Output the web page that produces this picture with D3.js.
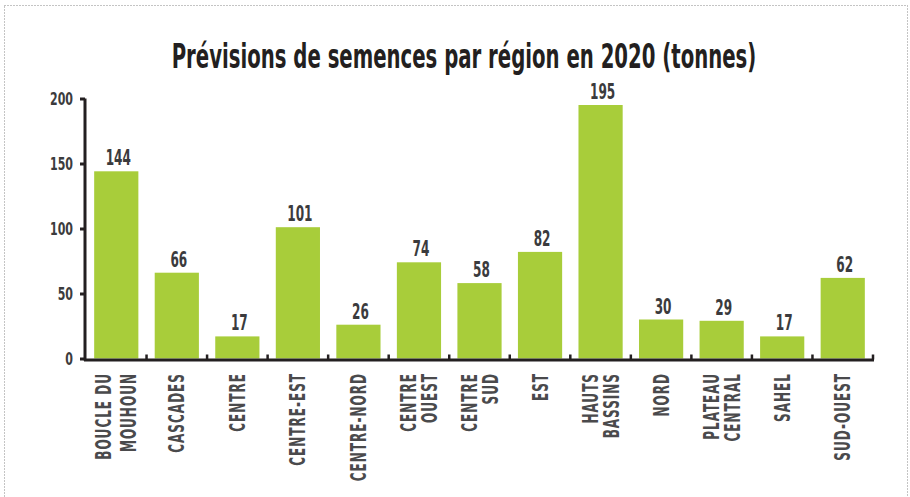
<!DOCTYPE html>
<html>
<head>
<meta charset="utf-8">
<script src="https://cdn.jsdelivr.net/npm/d3@7"></script>
<style>
  html, body { margin: 0; padding: 0; background: #fff; }
  svg { display: block; }
  .cond { font-family: "DejaVu Sans Condensed", "DejaVu Sans", sans-serif; font-weight: bold; }
</style>
</head>
<body>
<svg id="chart" width="910" height="497"></svg>
<script>
// Seed forecasts by region, 2020 (tonnes)
const regions = [
  ["BOUCLE DU", "MOUHOUN"],
  ["CASCADES"],
  ["CENTRE"],
  ["CENTRE-EST"],
  ["CENTRE-NORD"],
  ["CENTRE", "OUEST"],
  ["CENTRE", "SUD"],
  ["EST"],
  ["HAUTS", "BASSINS"],
  ["NORD"],
  ["PLATEAU", "CENTRAL"],
  ["SAHEL"],
  ["SUD-OUEST"]
];
const tonnes = [144, 66, 17, 101, 26, 74, 58, 82, 195, 30, 29, 17, 62];
const yTicks = [0, 50, 100, 150, 200];
const titleText = "Prévisions de semences par région en 2020 (tonnes)";

const svg = d3.select("#chart");

// dotted frame
svg.append("rect")
  .attr("x", 4.5).attr("y", 5.5)
  .attr("width", 903).attr("height", 520)
  .attr("fill", "none")
  .attr("stroke", "#888")
  .attr("stroke-width", 1)
  .attr("stroke-dasharray", "1,2");

const textColor = "#3b3b3d";
const axisColor = "#231f20";

// narrow glyphs: squeeze the condensed face along the reading direction
const squeeze = 0.64;

// title, squeezed to a 585px line
const title = svg.append("text")
  .attr("class", "cond")
  .attr("text-anchor", "middle")
  .attr("font-size", 34)
  .attr("fill", "#231f20")
  .text(titleText);
const natural = title.node().getComputedTextLength();
title.attr("transform", `translate(464,68) scale(${585 / natural},1)`);

const keys = regions.map((r, i) => i);
const x = d3.scaleBand().domain(keys).range([86, 873]).paddingInner(0.27).paddingOuter(0.135);
const y = d3.scaleLinear().domain([0, 200]).range([358.5, 98.5]);

// bars
svg.append("g").selectAll("rect")
  .data(tonnes)
  .join("rect")
  .attr("x", (d, i) => x(i))
  .attr("width", x.bandwidth())
  .attr("y", d => y(d))
  .attr("height", d => y(0) - y(d))
  .attr("fill", "#a8cd3a");

// value labels
svg.append("g").selectAll("text")
  .data(tonnes)
  .join("text")
  .attr("class", "cond")
  .attr("transform", (d, i) => `translate(${x(i) + x.bandwidth() / 2 + 2},${y(d) - 6}) scale(${squeeze},1)`)
  .attr("text-anchor", "middle")
  .attr("font-size", 21)
  .attr("fill", textColor)
  .text(d => d);

// y axis
const yAxis = d3.axisLeft(y).tickValues(yTicks).tickSize(5).tickPadding(7);
const gy = svg.append("g").attr("transform", "translate(85,0)").call(yAxis);
gy.select(".domain").attr("stroke", axisColor).attr("stroke-width", 3).attr("d", `M0,${y(200)}V${y(0) + 2}`);
gy.selectAll(".tick line").attr("stroke", axisColor).attr("stroke-width", 3);
gy.selectAll(".tick text")
  .attr("class", "cond")
  .attr("font-family", null)
  .attr("font-size", 18)
  .attr("fill", textColor)
  .attr("x", null)
  .attr("transform", `translate(-12,0) scale(${squeeze + 0.04},1)`);

// x axis: baseline with upward ticks at category boundaries
const step = x.step();
const bounds = keys.map(i => x(i) - x.paddingInner() * step / 2 + step);
const gx = svg.append("g");
gx.append("line")
  .attr("x1", 84).attr("x2", 874)
  .attr("y1", y(0) + 1.5).attr("y2", y(0) + 1.5)
  .attr("stroke", axisColor).attr("stroke-width", 3);
gx.selectAll("line.tk")
  .data(bounds)
  .join("line")
  .attr("class", "tk")
  .attr("x1", d => d).attr("x2", d => d)
  .attr("y1", y(0) + 1).attr("y2", y(0) - 4)
  .attr("stroke", axisColor).attr("stroke-width", 2.5);

// category labels, rotated
const labelTop = 373;
const lineGap = 21;
const gl = svg.append("g");
regions.forEach((lines, i) => {
  const cx = x(i) + x.bandwidth() / 2;
  const n = lines.length;
  const gap = i === 0 ? 25 : lineGap;
  lines.forEach((txt, j) => {
    const off = (j - (n - 1) / 2) * gap;
    gl.append("text")
      .attr("class", "cond")
      .attr("transform", `translate(${cx + off},${labelTop}) rotate(-90) scale(${squeeze},1)`)
      .attr("text-anchor", "end")
      .attr("dy", "0.36em")
      .attr("font-size", 21)
      .attr("letter-spacing", 1.5)
      .attr("fill", "#4a4a4c")
      .text(txt);
  });
});
</script>
</body>
</html>
